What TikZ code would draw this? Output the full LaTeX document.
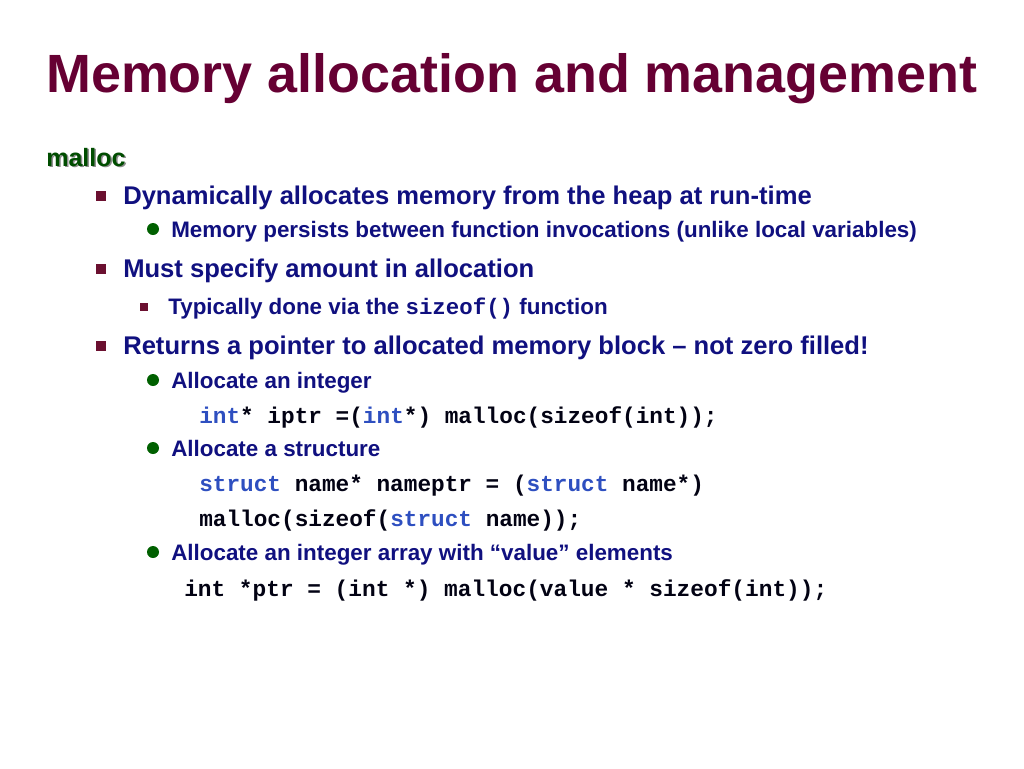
\documentclass[tikz,border=0pt]{standalone}
\usepackage{fontspec}
\setmainfont{Liberation Sans}
\setmonofont{Liberation Mono}
\definecolor{titlec}{HTML}{660033}
\definecolor{navy}{HTML}{10107F}
\definecolor{bgreen}{HTML}{006000}
\definecolor{kw}{HTML}{2E4FC0}
\definecolor{sqc}{HTML}{6B1030}
\begin{document}
\begin{tikzpicture}[x=0.75pt,y=-0.75pt,
  t/.style={anchor=base west,inner sep=0pt,text=navy,font=\bfseries},
  l1/.style={t,font=\bfseries\fontsize{19.2}{21}\selectfont},
  l2/.style={t,font=\bfseries\fontsize{16.8}{18}\selectfont},
  code/.style={t,font=\ttfamily\bfseries\fontsize{17.05}{20}\selectfont,text=black!85!navy},
  sq/.style={fill=sqc,minimum size=7.5pt,inner sep=0pt},
  ssq/.style={fill=sqc,minimum size=6pt,inner sep=0pt},
  dot/.style={circle,fill=bgreen,minimum size=9pt,inner sep=0pt}]
\useasboundingbox (0,0) rectangle (1024,768);
\node[anchor=base west,inner sep=0pt,text=titlec,font=\bfseries\fontsize{40.4}{44}\selectfont] (title) at (46,92) {Memory allocation and management};
\node[anchor=base west,inner sep=0pt,text=black!45,font=\bfseries\fontsize{18.8}{20}\selectfont] (mallocs) at (47.5,167.5) {malloc};
\node[anchor=base west,inner sep=0pt,text=bgreen!80!black,font=\bfseries\fontsize{18.8}{20}\selectfont] (malloc) at (46,166) {malloc};
\node[sq] (b1) at (101,196) {};
\node[l1] (t1) at (123,204) {Dynamically allocates memory from the heap at run-time};
\node[dot] (d1) at (153,229) {};
\node[l2] (t11) at (171,237) {Memory persists between function invocations (unlike local variables)};
\node[sq] (b2) at (101,269) {};
\node[l1] (t2) at (123,277) {Must specify amount in allocation};
\node[ssq] (b21) at (144,307) {};
\node[l2] (t21) at (168,314) {Typically done via the {\ttfamily sizeof()} function};
\node[sq] (b3) at (101,346) {};
\node[l1] (t3) at (123,354) {Returns a pointer to allocated memory block – not zero filled!};
\node[dot] (d31) at (153,380) {};
\node[l2] (t31) at (171,388) {Allocate an integer};
\node[code] (c1) at (199,423) {\textcolor{kw}{int}* iptr =(\textcolor{kw}{int}*) malloc(sizeof(int));};
\node[dot] (d32) at (153,448) {};
\node[l2] (t32) at (171,456) {Allocate a structure};
\node[code] (c2) at (199,491) {\textcolor{kw}{struct} name* nameptr = (\textcolor{kw}{struct} name*)};
\node[code] (c3) at (199,526) {malloc(sizeof(\textcolor{kw}{struct} name));};
\node[dot] (d33) at (153,552) {};
\node[l2] (t33) at (171,560) {Allocate an integer array with “value” elements};
\node[code,font=\ttfamily\bfseries\fontsize{17.1}{20}\selectfont] (c4) at (184,596) {int *ptr = (int *) malloc(value * sizeof(int));};
\end{tikzpicture}
\end{document}
